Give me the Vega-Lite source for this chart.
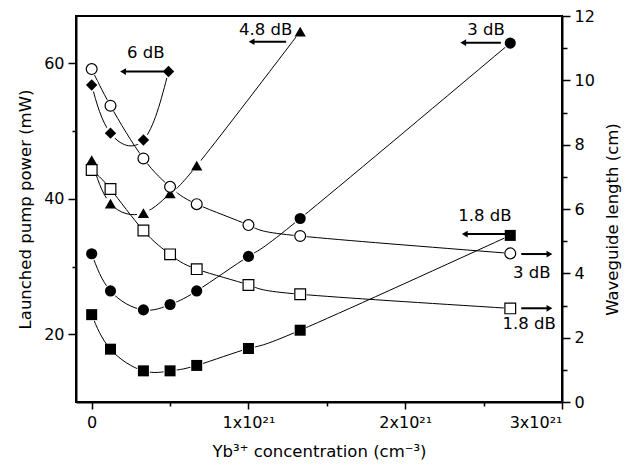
{
  "$schema": "https://vega.github.io/schema/vega-lite/v6.json",
  "width": 486,
  "height": 386,
  "autosize": {"type": "none"},
  "padding": {"left": 76, "top": 16, "right": 69, "bottom": 72},
  "background": "white",
  "config": {
    "font": "DejaVu Sans",
    "view": {"stroke": "black", "strokeWidth": 2},
    "axis": {
      "grid": false,
      "domainColor": "black",
      "domainWidth": 2,
      "tickColor": "black",
      "tickWidth": 1.5,
      "labelColor": "black",
      "labelFont": "DejaVu Sans",
      "labelFontSize": 16,
      "titleColor": "black",
      "titleFont": "DejaVu Sans",
      "titleFontSize": 16.5,
      "titleFontWeight": "normal"
    }
  },
  "datasets": {
    "pts": [
      {"s": "D6", "side": "L", "c": 0, "v": 56.8},
      {"s": "D6", "side": "L", "c": 0.12, "v": 49.7},
      {"s": "D6", "side": "L", "c": 0.33, "v": 48.7},
      {"s": "D6", "side": "L", "c": 0.49, "v": 58.8},
      {"s": "T48", "side": "L", "c": 0, "v": 45.7},
      {"s": "T48", "side": "L", "c": 0.12, "v": 39.3},
      {"s": "T48", "side": "L", "c": 0.33, "v": 37.9},
      {"s": "T48", "side": "L", "c": 0.5, "v": 40.8},
      {"s": "T48", "side": "L", "c": 0.67, "v": 44.9},
      {"s": "T48", "side": "L", "c": 1.33, "v": 64.7},
      {"s": "C3", "side": "L", "c": 0, "v": 31.9},
      {"s": "C3", "side": "L", "c": 0.12, "v": 26.4},
      {"s": "C3", "side": "L", "c": 0.33, "v": 23.6},
      {"s": "C3", "side": "L", "c": 0.5, "v": 24.4},
      {"s": "C3", "side": "L", "c": 0.67, "v": 26.4},
      {"s": "C3", "side": "L", "c": 1.0, "v": 31.5},
      {"s": "C3", "side": "L", "c": 1.33, "v": 37.1},
      {"s": "C3", "side": "L", "c": 2.67, "v": 63.0},
      {"s": "S18", "side": "L", "c": 0, "v": 22.9},
      {"s": "S18", "side": "L", "c": 0.12, "v": 17.8},
      {"s": "S18", "side": "L", "c": 0.33, "v": 14.6},
      {"s": "S18", "side": "L", "c": 0.5, "v": 14.6},
      {"s": "S18", "side": "L", "c": 0.67, "v": 15.4},
      {"s": "S18", "side": "L", "c": 1.0, "v": 17.9},
      {"s": "S18", "side": "L", "c": 1.33, "v": 20.6},
      {"s": "S18", "side": "L", "c": 2.67, "v": 34.6},
      {"s": "OC3", "side": "R", "c": 0, "v": 10.35},
      {"s": "OC3", "side": "R", "c": 0.12, "v": 9.21},
      {"s": "OC3", "side": "R", "c": 0.33, "v": 7.57},
      {"s": "OC3", "side": "R", "c": 0.5, "v": 6.69},
      {"s": "OC3", "side": "R", "c": 0.67, "v": 6.15},
      {"s": "OC3", "side": "R", "c": 1.0, "v": 5.5},
      {"s": "OC3", "side": "R", "c": 1.33, "v": 5.16},
      {"s": "OC3", "side": "R", "c": 2.67, "v": 4.62},
      {"s": "OS18", "side": "R", "c": 0, "v": 7.21},
      {"s": "OS18", "side": "R", "c": 0.12, "v": 6.62},
      {"s": "OS18", "side": "R", "c": 0.33, "v": 5.33},
      {"s": "OS18", "side": "R", "c": 0.5, "v": 4.59},
      {"s": "OS18", "side": "R", "c": 0.67, "v": 4.13},
      {"s": "OS18", "side": "R", "c": 1.0, "v": 3.64},
      {"s": "OS18", "side": "R", "c": 1.33, "v": 3.35},
      {"s": "OS18", "side": "R", "c": 2.67, "v": 2.91}
    ],
    "arrows": [
      {"c": 0.2, "c2": 0.46, "v": 58.8, "dir": "left"},
      {"c": 1.02, "c2": 1.24, "v": 63.2, "dir": "left"},
      {"c": 2.37, "c2": 2.61, "v": 63.06, "dir": "left"},
      {"c": 2.38, "c2": 2.64, "v": 34.8, "dir": "left"},
      {"c": 2.92, "c2": 2.74, "v": 31.85, "dir": "right"},
      {"c": 2.92, "c2": 2.74, "v": 23.84, "dir": "right"}
    ],
    "labels": [
      {"c": 0.345, "v": 61.5, "label": "6 dB"},
      {"c": 1.11, "v": 65.0, "label": "4.8 dB"},
      {"c": 2.515, "v": 65.0, "label": "3 dB"},
      {"c": 2.508, "v": 37.45, "label": "1.8 dB"},
      {"c": 2.807, "v": 29.1, "label": "3 dB"},
      {"c": 2.79, "v": 21.5, "label": "1.8 dB"}
    ]
  },
  "encoding": {
    "x": {
      "field": "c",
      "type": "quantitative",
      "scale": {"domain": [-0.1, 3], "nice": false, "zero": false},
      "axis": {
        "title": "Yb³⁺ concentration (cm⁻³)",
        "values": [0, 0.5, 1, 1.5, 2, 2.5, 3],
        "labelExpr": "datum.value == 0 ? '0' : (datum.value % 1 == 0 ? datum.value + 'x10²¹' : '')",
        "tickSize": {"condition": {"test": "datum.value % 1 != 0", "value": 4}, "value": 7},
        "labelPadding": 5,
        "titlePadding": 13
      }
    }
  },
  "layer": [
    {
      "data": {"name": "pts"},
      "transform": [{"filter": "datum.side == 'L'"}],
      "mark": {"type": "line", "interpolate": "natural", "color": "black", "strokeWidth": 1},
      "encoding": {
        "y": {
          "field": "v", "type": "quantitative",
          "scale": {"domain": [10, 67], "nice": false, "zero": false},
          "axis": {
            "orient": "left",
            "title": "Launched pump power (mW)",
            "values": [20, 30, 40, 50, 60],
            "labelExpr": "datum.value % 20 == 0 ? datum.label : ''",
            "tickSize": {"condition": {"test": "datum.value % 20 != 0", "value": 4}, "value": 8},
            "labelPadding": 4,
            "titlePadding": 10
          }
        },
        "detail": {"field": "s"}
      }
    },
    {
      "data": {"name": "pts"},
      "transform": [{"filter": "datum.side == 'R'"}],
      "mark": {"type": "line", "interpolate": "natural", "color": "black", "strokeWidth": 1},
      "encoding": {
        "y": {
          "field": "v", "type": "quantitative",
          "scale": {"domain": [0, 12], "nice": false, "zero": false},
          "axis": {
            "orient": "right",
            "title": "Waveguide length (cm)",
            "titleAngle": 270,
            "titleY": 203,
            "values": [0, 1, 2, 3, 4, 5, 6, 7, 8, 9, 10, 11, 12],
            "labelExpr": "datum.value % 2 == 0 ? datum.label : ''",
            "tickSize": {"condition": {"test": "datum.value % 2 != 0", "value": 5}, "value": 8},
            "labelPadding": 4,
            "titlePadding": 26
          }
        },
        "detail": {"field": "s"}
      }
    },
    {
      "data": {"name": "pts"},
      "transform": [{"filter": "datum.side == 'L'"}],
      "mark": {"type": "point", "filled": true, "color": "white", "opacity": 1, "size": 180, "shape": "circle"},
      "encoding": {
        "y": {"field": "v", "type": "quantitative", "scale": {"domain": [10, 67], "nice": false, "zero": false}, "axis": null}
      }
    },
    {
      "data": {"name": "pts"},
      "transform": [{"filter": "datum.side == 'R'"}],
      "mark": {"type": "point", "filled": true, "color": "white", "opacity": 1, "size": 170, "shape": "circle"},
      "encoding": {
        "y": {"field": "v", "type": "quantitative", "scale": {"domain": [0, 12], "nice": false, "zero": false}, "axis": null}
      }
    },
    {
      "data": {"name": "pts"},
      "transform": [{"filter": "datum.side == 'L'"}],
      "mark": {"type": "point", "filled": true, "color": "black", "opacity": 1},
      "encoding": {
        "y": {"field": "v", "type": "quantitative", "scale": {"domain": [10, 67], "nice": false, "zero": false}, "axis": null},
        "shape": {"field": "s", "type": "nominal", "legend": null,
          "scale": {"domain": ["D6", "T48", "C3", "S18", "OC3", "OS18"], "range": ["diamond", "triangle-up", "circle", "square", "circle", "square"]}},
        "size": {"field": "s", "type": "nominal", "legend": null,
          "scale": {"domain": ["D6", "T48", "C3", "S18", "OC3", "OS18"], "range": [130, 115, 64, 56, 62, 50]}}
      }
    },
    {
      "data": {"name": "pts"},
      "transform": [{"filter": "datum.side == 'R'"}],
      "mark": {"type": "point", "filled": true, "fill": "white", "stroke": "black", "strokeWidth": 1.2, "opacity": 1},
      "encoding": {
        "y": {"field": "v", "type": "quantitative", "scale": {"domain": [0, 12], "nice": false, "zero": false}, "axis": null},
        "shape": {"field": "s", "type": "nominal", "legend": null,
          "scale": {"domain": ["D6", "T48", "C3", "S18", "OC3", "OS18"], "range": ["diamond", "triangle-up", "circle", "square", "circle", "square"]}},
        "size": {"field": "s", "type": "nominal", "legend": null,
          "scale": {"domain": ["D6", "T48", "C3", "S18", "OC3", "OS18"], "range": [130, 115, 64, 56, 62, 50]}}
      }
    },
    {
      "data": {"name": "arrows"},
      "mark": {"type": "rule", "color": "black", "strokeWidth": 2},
      "encoding": {
        "x2": {"field": "c2"},
        "y": {"field": "v", "type": "quantitative", "scale": {"domain": [10, 67], "nice": false, "zero": false}, "axis": null}
      }
    },
    {
      "data": {"name": "arrows"},
      "mark": {"type": "point", "filled": true, "color": "black", "opacity": 1, "size": 45},
      "encoding": {
        "y": {"field": "v", "type": "quantitative", "scale": {"domain": [10, 67], "nice": false, "zero": false}, "axis": null},
        "shape": {"field": "dir", "type": "nominal", "legend": null,
          "scale": {"domain": ["left", "right"], "range": ["triangle-left", "triangle-right"]}}
      }
    },
    {
      "data": {"name": "labels"},
      "mark": {"type": "text", "font": "DejaVu Sans", "fontSize": 16.5, "color": "black", "align": "center", "baseline": "middle"},
      "encoding": {
        "y": {"field": "v", "type": "quantitative", "scale": {"domain": [10, 67], "nice": false, "zero": false}, "axis": null},
        "text": {"field": "label"}
      }
    }
  ],
  "resolve": {"scale": {"y": "independent", "shape": "independent", "size": "independent"}}
}
